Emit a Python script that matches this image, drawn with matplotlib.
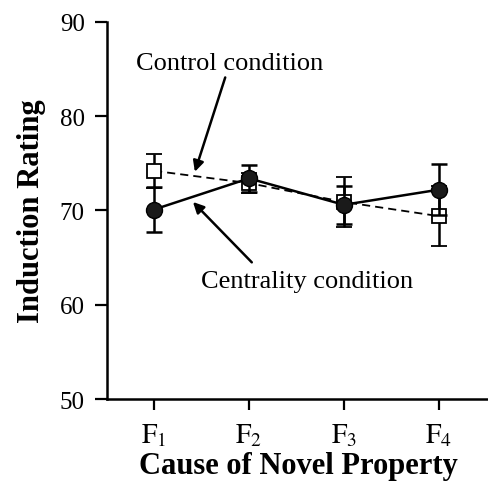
import numpy as np
import matplotlib
matplotlib.use("Agg")
import matplotlib.pyplot as plt

plt.rcParams["font.family"] = "Liberation Serif"
plt.rcParams["mathtext.fontset"] = "stix"

# data
causes = [r"$\mathrm{F}_1$", r"$\mathrm{F}_2$", r"$\mathrm{F}_3$", r"$\mathrm{F}_4$"]
control = [74.2, 72.9, 70.9, 69.4]
control_err = [1.8, 1.1, 2.7, 3.2]
centrality = [70.1, 73.4, 70.6, 72.2]
centrality_err = [2.4, 1.4, 2.0, 2.7]

x = np.arange(1, 5)

fig = plt.figure(figsize=(4.89, 4.85), dpi=100)
ax = fig.add_axes([0.219, 0.175, 0.781, 0.778])

ax.errorbar(x, control, yerr=control_err, fmt="s", ls=(0, (4.5, 2.8)), color="black",
            mfc="white", mec="black", ms=10, mew=1.3, lw=1.3,
            elinewidth=1.8, capsize=5.8, capthick=1.8, zorder=2)
ax.errorbar(x, centrality, yerr=centrality_err, fmt="o", ls="-", color="black",
            mfc="#1a1a1a", mec="black", ms=11.5, lw=1.8,
            elinewidth=1.8, capsize=5.8, capthick=1.8, zorder=3)

ax.set_xlim(0.505, 4.53)
ax.set_ylim(50, 90)
ax.set_yticks([50, 60, 70, 80, 90])
ax.set_xticks(x)
ax.set_xticklabels(causes, fontsize=20)
ax.tick_params(axis="y", labelsize=18, direction="out", length=9, width=1.6, pad=7)
ax.tick_params(axis="x", direction="out", length=8, width=1.6, pad=8)

for s in ["top", "right"]:
    ax.spines[s].set_visible(False)
for s in ["left", "bottom"]:
    ax.spines[s].set_linewidth(1.8)

ax.set_ylabel("Induction Rating", fontsize=22, fontweight="bold", labelpad=10)
ax.set_xlabel("Cause of Novel Property", fontsize=22, fontweight="bold", labelpad=2)

ax.text(1.8, 85.0, "Control condition", fontsize=19, ha="center", va="baseline")
ax.annotate("", xy=(1.43, 74.1), xytext=(1.75, 84.1),
            arrowprops=dict(arrowstyle="-|>", color="black", lw=1.8,
                            shrinkA=0, shrinkB=0, mutation_scale=16))
ax.text(2.61, 62.5, "Centrality condition", fontsize=19, ha="center", va="center")
ax.annotate("", xy=(1.41, 70.9), xytext=(2.03, 64.5),
            arrowprops=dict(arrowstyle="-|>", color="black", lw=1.8,
                            shrinkA=0, shrinkB=0, mutation_scale=16))

fig.savefig("out.png", dpi=100)
